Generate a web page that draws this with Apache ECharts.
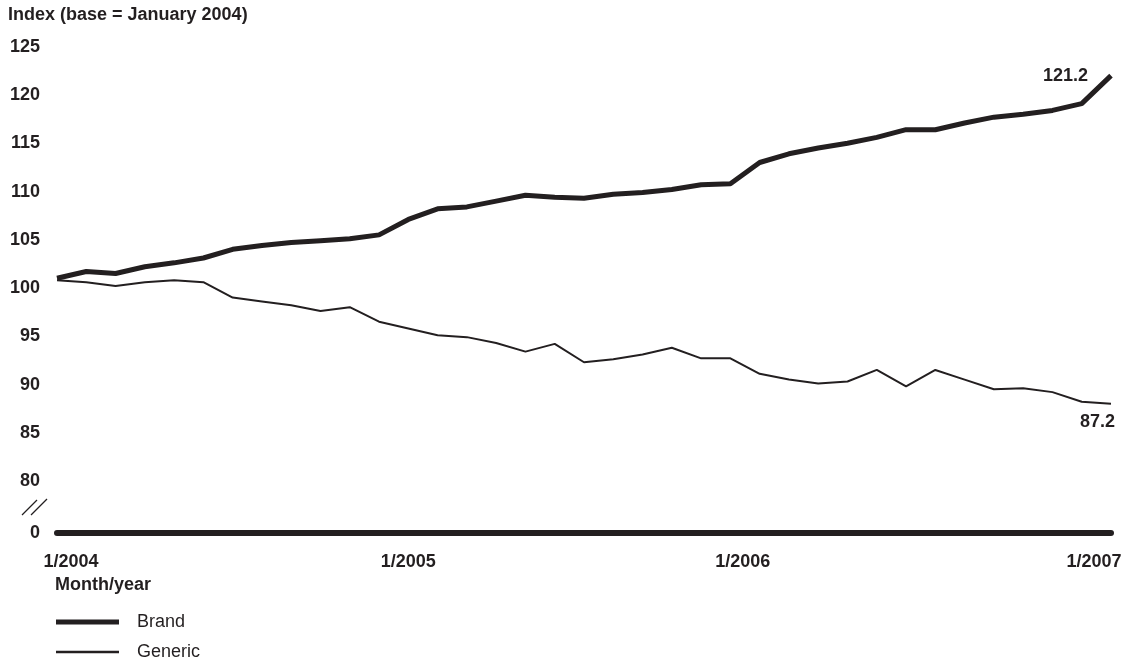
<!DOCTYPE html>
<html>
<head>
<meta charset="utf-8">
<script src="https://cdn.jsdelivr.net/npm/echarts@6/dist/echarts.min.js"></script>
<style>
html,body{margin:0;padding:0;background:#fff;}
#chart{width:1127px;height:662px;}
</style>
</head>
<body>
<div id="chart"></div>
<script>
const categories = [
  '1/2004','2/2004','3/2004','4/2004','5/2004','6/2004','7/2004','8/2004','9/2004','10/2004','11/2004','12/2004',
  '1/2005','2/2005','3/2005','4/2005','5/2005','6/2005','7/2005','8/2005','9/2005','10/2005','11/2005','12/2005',
  '1/2006','2/2006','3/2006','4/2006','5/2006','6/2006','7/2006','8/2006','9/2006','10/2006','11/2006','12/2006',
  '1/2007'
];
const brand = [
  100.2, 100.9, 100.7, 101.4, 101.8, 102.3, 103.2, 103.6, 103.9, 104.1, 104.3, 104.7,
  106.3, 107.4, 107.6, 108.2, 108.8, 108.6, 108.5, 108.9, 109.1, 109.4, 109.9, 110.0,
  112.2, 113.1, 113.7, 114.2, 114.8, 115.6, 115.6, 116.3, 116.9, 117.2, 117.6, 118.3,
  121.2
];
const generic = [
  100.0, 99.8, 99.4, 99.8, 100.0, 99.8, 98.2, 97.8, 97.4, 96.8, 97.2, 95.7,
  95.0, 94.3, 94.1, 93.5, 92.6, 93.4, 91.5, 91.8, 92.3, 93.0, 91.9, 91.9,
  90.3, 89.7, 89.3, 89.5, 90.7, 89.0, 90.7, 89.7, 88.7, 88.8, 88.4, 87.4,
  87.2
];
const yTickValues = [80, 85, 90, 95, 100, 105, 110, 115, 120, 125];
const yBreakBase = 73.8;           // position standing for the "0" baseline below the axis break
const xTickLabels = ['1/2004', '1/2005', '1/2006', '1/2007'];

const INK = '#231f20';
const FONT = '"Liberation Sans", Arial, Helvetica, sans-serif';

const chart = echarts.init(document.getElementById('chart'), null, {renderer: 'canvas'});

const xRichKey = {'1/2004': 'a', '1/2005': 'b', '1/2006': 'c', '1/2007': 'c'};

chart.setOption({
  animation: false,
  backgroundColor: '#ffffff',
  textStyle: {fontFamily: FONT, color: INK},
  title: [
    {
      text: 'Index (base = January 2004)',
      left: 8, top: 6, padding: 0,
      textStyle: {fontFamily: FONT, fontSize: 18, fontWeight: 'bold', color: INK}
    },
    {
      text: 'Month/year',
      left: 55, top: 576, padding: 0,
      textStyle: {fontFamily: FONT, fontSize: 18, fontWeight: 'bold', color: INK}
    }
  ],
  legend: [
    {
      data: ['Brand'],
      left: 56, top: 613, padding: 0,
      icon: 'rect', itemWidth: 63, itemHeight: 5,
      selectedMode: false,
      textStyle: {fontFamily: FONT, fontSize: 18, color: INK, padding: [0, 0, 0, 13]}
    },
    {
      data: ['Generic'],
      left: 56, top: 643, padding: 0,
      icon: 'rect', itemWidth: 63, itemHeight: 2.5,
      selectedMode: false,
      textStyle: {fontFamily: FONT, fontSize: 18, color: INK, padding: [0, 0, 0, 13]}
    }
  ],
  grid: {left: 57, right: 16, top: 39, bottom: 129, containLabel: false, outerBoundsMode: 'none'},
  xAxis: {
    type: 'category',
    data: categories,
    boundaryGap: false,
    axisLine: {show: true, lineStyle: {color: INK, width: 6}},
    axisTick: {show: false},
    splitLine: {show: false},
    axisLabel: {
      interval: (i, v) => xTickLabels.indexOf(v) >= 0,
      formatter: v => '{' + xRichKey[v] + '|' + v + '}',
      margin: 20,
      color: INK, fontFamily: FONT, fontSize: 18, fontWeight: 'bold',
      rich: {
        a: {padding: [0, 0, 0, 28]},
        b: {},
        c: {padding: [0, 34, 0, 0]}
      }
    }
  },
  yAxis: {
    type: 'value',
    min: yBreakBase,
    max: 125,
    axisLine: {show: false},
    axisTick: {show: false},
    splitLine: {show: false},
    axisLabel: {
      customValues: [yBreakBase].concat(yTickValues),
      formatter: v => v < 79 ? '{z|0}' : '{n|' + v + '}',
      margin: 17,
      color: INK, fontFamily: FONT, fontSize: 18, fontWeight: 'bold',
      rich: {
        z: {},
        n: {padding: [16, 0, 0, 0]}
      }
    }
  },
  graphic: [
    {type: 'line', shape: {x1: 22, y1: 515, x2: 37, y2: 500}, style: {stroke: INK, lineWidth: 1.2}},
    {type: 'line', shape: {x1: 31, y1: 515, x2: 47, y2: 499}, style: {stroke: INK, lineWidth: 1.2}}
  ],
  series: [
    {
      name: 'Brand',
      type: 'line',
      data: brand,
      symbol: 'none',
      color: INK,
      lineStyle: {color: INK, width: 5},
      endLabel: {
        show: true,
        distance: 8,
        align: 'right',
        verticalAlign: 'middle',
        offset: [-31, 0],
        formatter: p => Number(p.value).toFixed(1),
        color: INK, fontFamily: FONT, fontSize: 18, fontWeight: 'bold'
      },
      z: 3
    },
    {
      name: 'Generic',
      type: 'line',
      data: generic,
      symbol: 'none',
      color: INK,
      lineStyle: {color: INK, width: 2},
      endLabel: {
        show: true,
        distance: 8,
        align: 'right',
        verticalAlign: 'middle',
        offset: [-4, 18],
        formatter: p => Number(p.value).toFixed(1),
        color: INK, fontFamily: FONT, fontSize: 18, fontWeight: 'bold'
      },
      z: 2
    }
  ]
});
</script>
</body>
</html>
